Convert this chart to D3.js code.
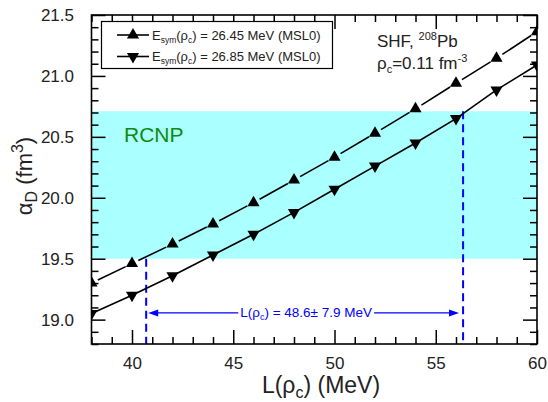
<!DOCTYPE html>
<html><head><meta charset="utf-8">
<script src="https://cdn.jsdelivr.net/npm/d3@7"></script>
<style>
html,body{margin:0;padding:0;background:#fff;}
svg{display:block;font-family:"Liberation Sans",Arial,sans-serif;}
</style></head>
<body>
<svg id="chart" width="548" height="402"></svg>
<script>
// ---- data ----
const L = [38, 40, 42, 44, 46, 48, 50, 52, 54, 56, 58, 60];
const alphaUp = [19.30, 19.46, 19.62, 19.785, 19.96, 20.145, 20.333, 20.53, 20.73, 20.94, 21.145, 21.363];
const alphaDown = [19.05, 19.20, 19.36, 19.53, 19.70, 19.88, 20.07, 20.26, 20.45, 20.65, 20.885, 21.09];
const seriesNames = ["26.45", "26.85"];
const xTicks = [40, 45, 50, 55, 60];
const yTicks = [19.0, 19.5, 20.0, 20.5, 21.0, 21.5];
const bandRange = [19.5, 20.71];
const dashX = [40.7, 56.35];
const arrowX = [40.8, 56.15];
const arrowY = 19.055;
const centralL = 48.6;

const svg = d3.select("#chart");
const m = {l: 91.5, r: 537, t: 15, b: 344};
const x = d3.scaleLinear().domain([38, 60]).range([m.l, m.r]);
const y = d3.scaleLinear().domain([18.8, 21.5]).range([m.b, m.t]);

svg.append("defs").append("clipPath").attr("id", "clip")
  .append("rect").attr("x", m.l).attr("y", m.t).attr("width", m.r - m.l).attr("height", m.b - m.t);

// band
svg.append("rect")
  .attr("x", m.l).attr("width", m.r - m.l)
  .attr("y", y(bandRange[1])).attr("height", y(bandRange[0]) - y(bandRange[1]))
  .attr("fill", "#aaffff");

// RCNP label
svg.append("text").attr("x", 124).attr("y", 142).attr("font-size", 21).attr("fill", "#118a11").text("RCNP");

// dashed lines
const blue = "#0000ff";
svg.append("line").attr("x1", x(dashX[0])).attr("x2", x(dashX[0]))
  .attr("y1", y(bandRange[0])).attr("y2", m.b)
  .attr("stroke", blue).attr("stroke-width", 2).attr("stroke-dasharray", "8,5");
svg.append("line").attr("x1", x(dashX[1])).attr("x2", x(dashX[1]))
  .attr("y1", y(bandRange[1])).attr("y2", m.b)
  .attr("stroke", blue).attr("stroke-width", 2).attr("stroke-dasharray", "8,5");

// arrow annotation
const ay = y(arrowY);
const at = svg.append("text").attr("x", x(centralL)).attr("y", ay + 4.5)
  .attr("text-anchor", "middle").attr("font-size", 13.5).attr("fill", blue);
at.append("tspan").text("L(\u03c1");
at.append("tspan").attr("font-size", 9).attr("dy", 3).text("c");
at.append("tspan").attr("dy", -3).text(") = 48.6\u00b1 7.9 MeV");
const bb = at.node().getBBox();
const ah = 9;
svg.append("line").attr("x1", x(arrowX[0]) + ah).attr("x2", bb.x - 2).attr("y1", ay).attr("y2", ay)
  .attr("stroke", blue).attr("stroke-width", 1.2);
svg.append("line").attr("x1", bb.x + bb.width + 2).attr("x2", x(arrowX[1]) - ah).attr("y1", ay).attr("y2", ay)
  .attr("stroke", blue).attr("stroke-width", 1.2);
svg.append("path").attr("d", `M${x(arrowX[0])},${ay}L${x(arrowX[0]) + ah + 1},${ay - 3.5}L${x(arrowX[0]) + ah + 1},${ay + 3.5}Z`).attr("fill", blue);
svg.append("path").attr("d", `M${x(arrowX[1])},${ay}L${x(arrowX[1]) - ah - 1},${ay - 3.5}L${x(arrowX[1]) - ah - 1},${ay + 3.5}Z`).attr("fill", blue);

// series
const plot = svg.append("g").attr("clip-path", "url(#clip)");
function drawSeries(vals, gap, rot) {
  const pts = L.map((d, i) => [x(d), y(vals[i])]);
  for (let i = 0; i < pts.length - 1; i++) {
    const [x0, y0] = pts[i], [x1, y1] = pts[i + 1];
    const dx = x1 - x0, dy = y1 - y0, len = Math.hypot(dx, dy);
    const ux = dx / len, uy = dy / len;
    plot.append("line")
      .attr("x1", x0 + ux * gap).attr("y1", y0 + uy * gap)
      .attr("x2", x1 - ux * gap).attr("y2", y1 - uy * gap)
      .attr("stroke", "#000").attr("stroke-width", 1.6);
  }
  const sym = d3.symbol().type(d3.symbolTriangle).size(64);
  plot.selectAll(null).data(pts).enter().append("path")
    .attr("d", sym)
    .attr("transform", d => `translate(${d[0]},${d[1]}) rotate(${rot})`)
    .attr("fill", "#000");
}
drawSeries(alphaUp, 7, 0);
drawSeries(alphaDown, 0, 180);

// axes (inward ticks)
function styleAxis(g) {
  g.select(".domain").remove();
  g.selectAll("line").attr("stroke", "#000").attr("stroke-width", 1.5);
  g.selectAll("text").attr("font-size", 17).attr("fill", "#222").attr("font-family", "Liberation Sans, Arial, sans-serif");
}
const xMinor = d3.range(38, 60.001, 1).filter(v => v % 5 !== 0);
const yMinor = d3.range(188, 215.001, 1).map(v => v / 10).filter(v => Math.round(v * 10) % 5 !== 0);

svg.append("g").attr("transform", `translate(0,${m.b})`)
  .call(d3.axisBottom(x).tickValues(xTicks).tickSize(-14).tickPadding(12.5).tickFormat(d3.format("d"))).call(styleAxis);
svg.append("g").attr("transform", `translate(0,${m.b})`)
  .call(d3.axisBottom(x).tickValues(xMinor).tickSize(-7).tickFormat("")).call(styleAxis);
svg.append("g").attr("transform", `translate(0,${m.t})`)
  .call(d3.axisTop(x).tickValues(xTicks).tickSize(-14).tickFormat("")).call(styleAxis);
svg.append("g").attr("transform", `translate(0,${m.t})`)
  .call(d3.axisTop(x).tickValues(xMinor).tickSize(-7).tickFormat("")).call(styleAxis);

svg.append("g").attr("transform", `translate(${m.l},0)`)
  .call(d3.axisLeft(y).tickValues(yTicks).tickSize(-14).tickPadding(17.5).tickFormat(d3.format(".1f"))).call(styleAxis);
svg.append("g").attr("transform", `translate(${m.l},0)`)
  .call(d3.axisLeft(y).tickValues(yMinor).tickSize(-7).tickFormat("")).call(styleAxis);
svg.append("g").attr("transform", `translate(${m.r},0)`)
  .call(d3.axisRight(y).tickValues(yTicks).tickSize(-14).tickFormat("")).call(styleAxis);
svg.append("g").attr("transform", `translate(${m.r},0)`)
  .call(d3.axisRight(y).tickValues(yMinor).tickSize(-7).tickFormat("")).call(styleAxis);

// frame
svg.append("rect").attr("x", m.l).attr("y", m.t).attr("width", m.r - m.l).attr("height", m.b - m.t)
  .attr("fill", "none").attr("stroke", "#000").attr("stroke-width", 1.6);

// axis titles
const xt = svg.append("text").attr("x", 321).attr("y", 393).attr("text-anchor", "middle").attr("font-size", 23).attr("fill", "#222");
xt.append("tspan").text("L(\u03c1");
xt.append("tspan").attr("font-size", 16).attr("dy", 5).text("c");
xt.append("tspan").attr("dy", -5).text(") (MeV)");

const yt = svg.append("text").attr("transform", "translate(32,176) rotate(-90)").attr("text-anchor", "middle").attr("font-size", 22).attr("fill", "#222");
yt.append("tspan").text("\u03b1");
yt.append("tspan").attr("font-size", 16).attr("dy", 5).text("D");
yt.append("tspan").attr("dy", -5).text(" (fm");
yt.append("tspan").attr("font-size", 16).attr("dy", -9).text("3");
yt.append("tspan").attr("dy", 9).text(")");

// legend
svg.append("rect").attr("x", 101.5).attr("y", 21.5).attr("width", 231).attr("height", 47)
  .attr("fill", "#fff").attr("stroke", "#000").attr("stroke-width", 1.2);
const legRows = [{y: 35, rot: 0, name: seriesNames[0]}, {y: 56.5, rot: 180, name: seriesNames[1]}];
legRows.forEach(r => {
  svg.append("line").attr("x1", 117).attr("x2", 149).attr("y1", r.y).attr("y2", r.y).attr("stroke", "#000").attr("stroke-width", 1.6);
  svg.append("path").attr("d", d3.symbol().type(d3.symbolTriangle).size(64)())
    .attr("transform", `translate(133,${r.y}) rotate(${r.rot})`).attr("fill", "#000");
  const t = svg.append("text").attr("x", 152).attr("y", r.y + 4.5).attr("font-size", 13).attr("fill", "#222");
  t.append("tspan").text("E");
  t.append("tspan").attr("font-size", 8.5).attr("dy", 3).text("sym");
  t.append("tspan").attr("dy", -3).text("(\u03c1");
  t.append("tspan").attr("font-size", 8.5).attr("dy", 3).text("c");
  t.append("tspan").attr("dy", -3).text(`) = ${r.name} MeV (MSL0)`);
});

// annotations
const a1 = svg.append("text").attr("x", 377).attr("y", 47).attr("font-size", 17).attr("fill", "#222");
a1.append("tspan").text("SHF, ");
a1.append("tspan").attr("font-size", 11).attr("dy", -7).text("208");
a1.append("tspan").attr("dy", 7).text("Pb");
const a2 = svg.append("text").attr("x", 377).attr("y", 69).attr("font-size", 17).attr("fill", "#222");
a2.append("tspan").text("\u03c1");
a2.append("tspan").attr("font-size", 11).attr("dy", 4).text("c");
a2.append("tspan").attr("dy", -4).text("=0.11 fm");
a2.append("tspan").attr("font-size", 11).attr("dy", -7).text("-3");
</script>
</body></html>
